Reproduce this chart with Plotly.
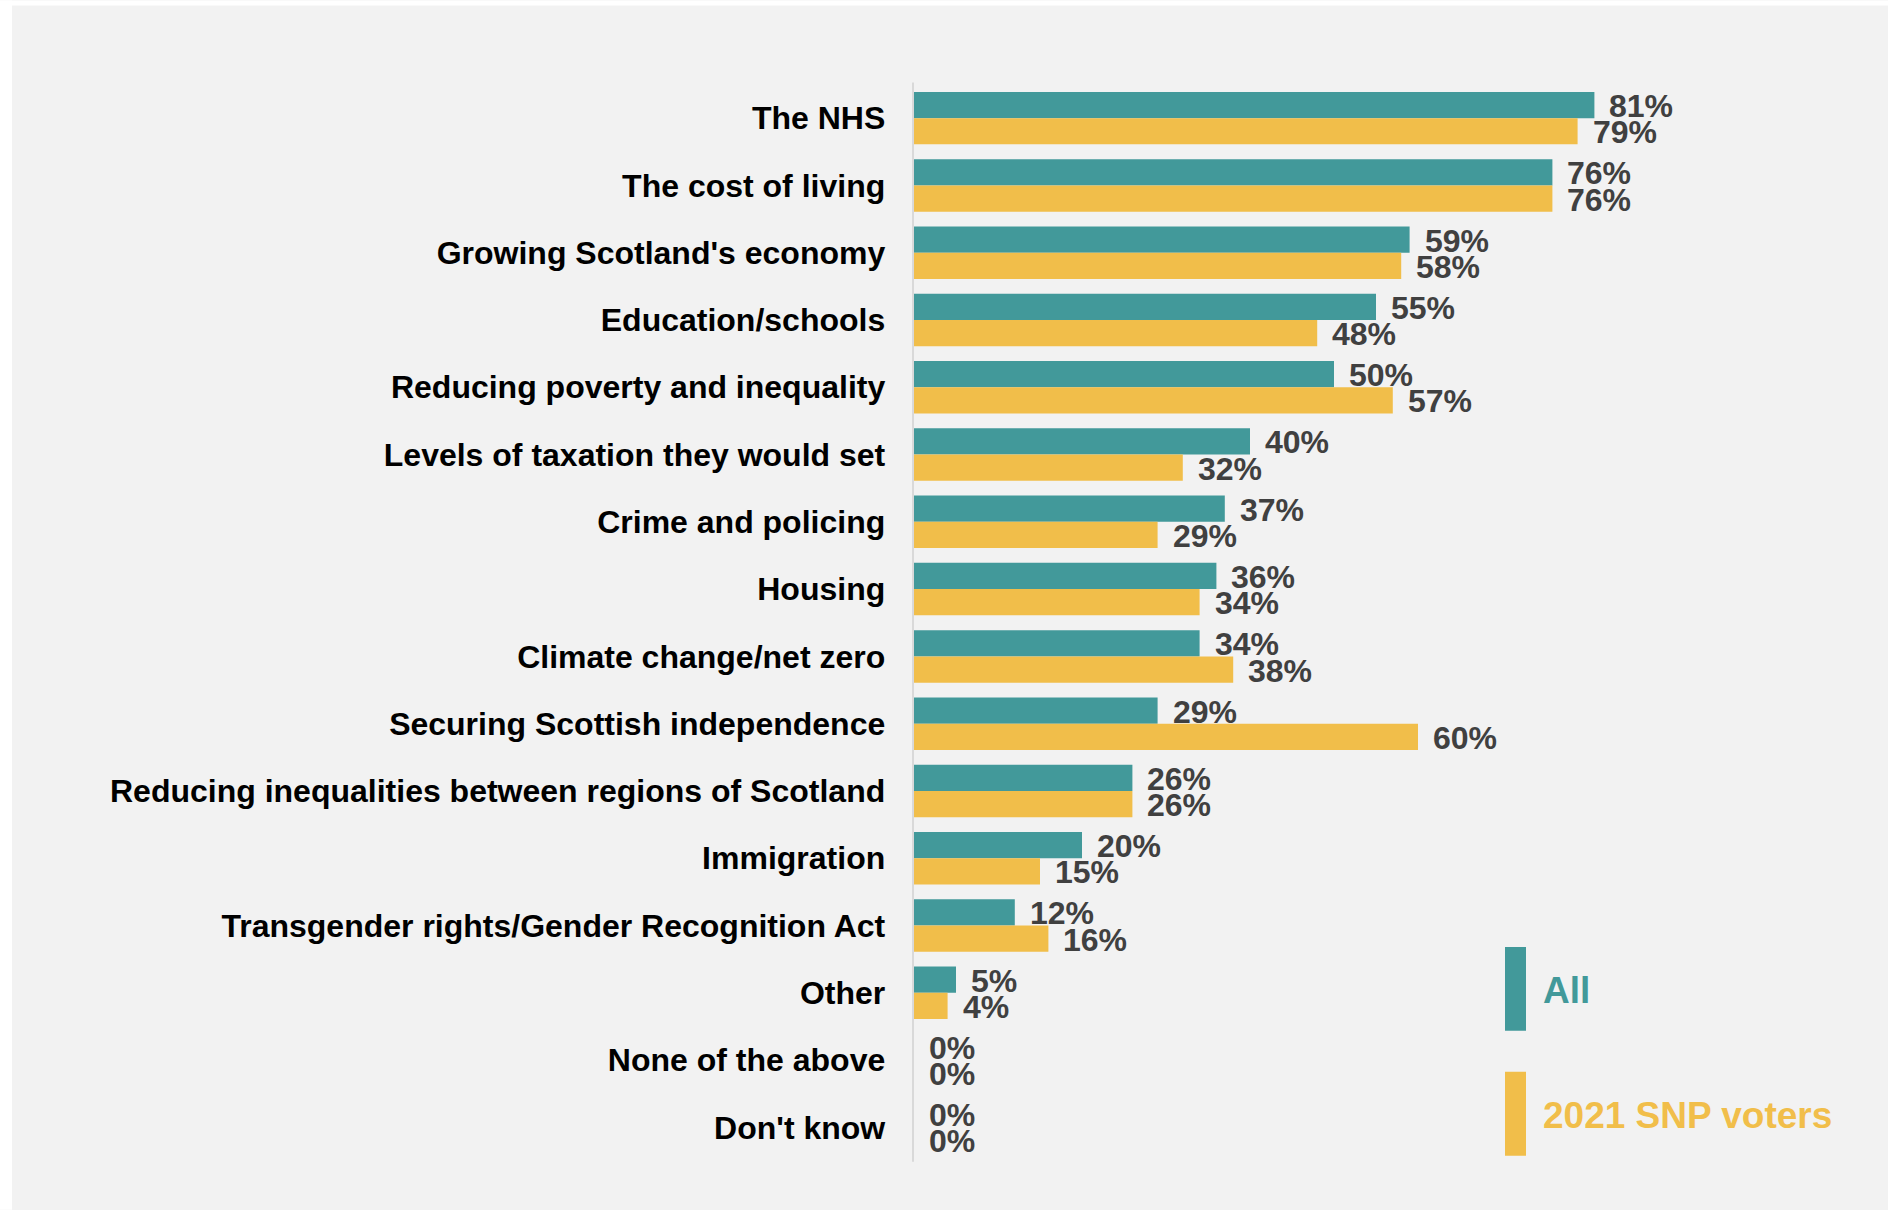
import plotly.graph_objects as go

categories = [
    "The NHS", "The cost of living", "Growing Scotland's economy", "Education/schools",
    "Reducing poverty and inequality", "Levels of taxation they would set",
    "Crime and policing", "Housing", "Climate change/net zero",
    "Securing Scottish independence", "Reducing inequalities between regions of Scotland",
    "Immigration", "Transgender rights/Gender Recognition Act", "Other",
    "None of the above", "Don't know",
]
all_values = [81, 76, 59, 55, 50, 40, 37, 36, 34, 29, 26, 20, 12, 5, 0, 0]
snp_values = [79, 76, 58, 48, 57, 32, 29, 34, 38, 60, 26, 15, 16, 4, 0, 0]
series_names = ["All", "2021 SNP voters"]

TEAL = "#42999a"
YELLOW = "#f1be4a"
BG = "#f2f2f2"
FONT = "Liberation Sans, Arial, sans-serif"

W, H = 1888, 1210
L, R_PX = 914, 1754          # plot area x pixels
T, B_PX = 83.6, 1161.2       # plot area y pixels


def px_x(p):
    return (p - L) / (R_PX - L)


def px_y(p):
    return (B_PX - p) / (B_PX - T)


fig = go.Figure()
fig.add_trace(go.Bar(y=categories, x=all_values, orientation="h", name=series_names[0],
                     marker=dict(color=TEAL, line=dict(width=0))))
fig.add_trace(go.Bar(y=categories, x=snp_values, orientation="h", name=series_names[1],
                     marker=dict(color=YELLOW, line=dict(width=0))))

annotations = []
bar_px = 0.39 * (B_PX - T) / len(categories)
for i, cat in enumerate(categories):
    for vals, shift in ((all_values, bar_px / 2 - 1), (snp_values, -bar_px / 2 - 1)):
        annotations.append(dict(
            x=vals[i], y=i, xref="x", yref="y", text=f"<b>{vals[i]}%</b>",
            showarrow=False, xanchor="left", yanchor="middle", xshift=13, yshift=shift,
            font=dict(family=FONT, size=32, color="#404040"),
        ))

# legend (custom)
annotations.append(dict(x=px_x(1541), y=px_y(991), xref="paper", yref="paper",
                        text="<b>All</b>", showarrow=False, xanchor="left", yanchor="middle",
                        font=dict(family=FONT, size=37, color=TEAL)))
annotations.append(dict(x=px_x(1541), y=px_y(1116), xref="paper", yref="paper",
                        text="<b>2021 SNP voters</b>", showarrow=False, xanchor="left", yanchor="middle",
                        font=dict(family=FONT, size=37, color=YELLOW)))

shapes = [
    # white page margins
    dict(type="rect", xref="paper", yref="paper", x0=px_x(0), x1=px_x(12), y0=px_y(H), y1=px_y(0),
         fillcolor="white", line=dict(width=0), layer="below"),
    dict(type="rect", xref="paper", yref="paper", x0=px_x(0), x1=px_x(W), y0=px_y(5), y1=px_y(0),
         fillcolor="white", line=dict(width=0), layer="below"),
    # axis line
    dict(type="line", xref="paper", yref="paper", x0=px_x(913), x1=px_x(913), y0=px_y(1162), y1=px_y(82),
         line=dict(color="#d9d9d9", width=2)),
    # legend swatches
    dict(type="rect", xref="paper", yref="paper", x0=px_x(1505), x1=px_x(1526), y0=px_y(1031), y1=px_y(947),
         fillcolor=TEAL, line=dict(width=0)),
    dict(type="rect", xref="paper", yref="paper", x0=px_x(1505), x1=px_x(1526), y0=px_y(1156), y1=px_y(1072),
         fillcolor=YELLOW, line=dict(width=0)),
]

fig.update_layout(
    width=W, height=H,
    margin=dict(l=L, r=W - R_PX, t=T, b=H - B_PX, pad=0),
    paper_bgcolor=BG, plot_bgcolor=BG,
    barmode="group", bargap=0.22, bargroupgap=0,
    showlegend=False,
    xaxis=dict(range=[0, 100], visible=False, fixedrange=True),
    yaxis=dict(categoryorder="array", categoryarray=categories, autorange="reversed",
               showgrid=False, zeroline=False, showline=False, ticks="",
               ticklabelstandoff=10, fixedrange=True,
               tickfont=dict(family=FONT, size=32, color="black")),
    annotations=annotations, shapes=shapes,
)
fig.update_yaxes(tickprefix="<b>", ticksuffix="</b>  ")

fig.write_html("out.html", config={"displayModeBar": False},
               post_script="document.body.style.margin='0';")
